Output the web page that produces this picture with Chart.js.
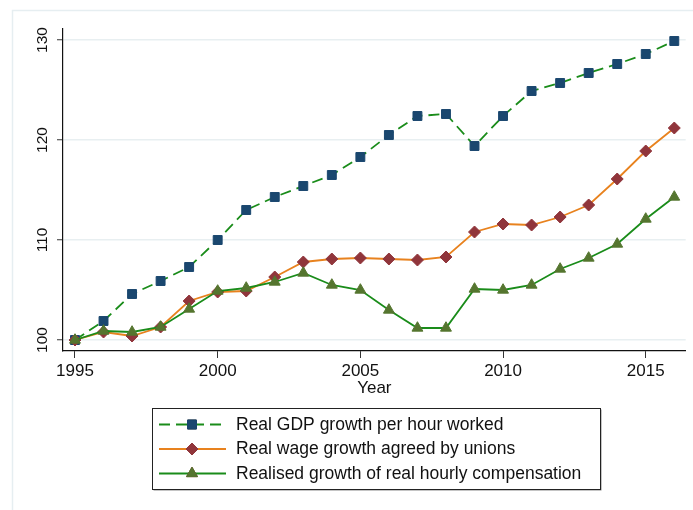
<!DOCTYPE html>
<html>
<head>
<meta charset="utf-8">
<script src="https://cdn.jsdelivr.net/npm/chart.js@4.4.1/dist/chart.umd.min.js"></script>
<style>
  body { margin: 0; background: #fff; }
  #wrap { position: relative; width: 693px; height: 510px; }
</style>
</head>
<body>
<div id="wrap"><canvas id="chart" width="693" height="510"></canvas></div>
<script>
// values (index, 1995 = 100)
var years = [1995, 1996, 1997, 1998, 1999, 2000, 2001, 2002, 2003, 2004, 2005,
             2006, 2007, 2008, 2009, 2010, 2011, 2012, 2013, 2014, 2015, 2016];
var gdpPerHour = [100, 101.9, 104.6, 105.9, 107.3, 110.0, 113.0, 114.3, 115.4, 116.5, 118.3,
                  120.5, 122.4, 122.6, 119.4, 122.4, 124.9, 125.7, 126.7, 127.6, 128.6, 129.9];
var unionWages = [100, 100.8, 100.4, 101.3, 103.9, 104.8, 104.9, 106.3, 107.8, 108.1, 108.2,
                  108.1, 108.0, 108.3, 110.8, 111.6, 111.5, 112.3, 113.5, 116.1, 118.9, 121.2];
var hourlyComp = [100, 100.9, 100.8, 101.3, 103.1, 104.9, 105.2, 105.8, 106.7, 105.5, 105.0,
                  103.0, 101.2, 101.2, 105.1, 105.0, 105.5, 107.1, 108.2, 109.6, 112.1, 114.3];
var xTicks = [1995, 2000, 2005, 2010, 2015];
var yTicks = [100, 110, 120, 130];
var seriesNames = ["Real GDP growth per hour worked",
                   "Real wage growth agreed by unions",
                   "Realised growth of real hourly compensation"];

function toPoints(vals) {
    return vals.map(function(v, i) { return {x: years[i], y: v}; });
}

var FONT = "'Liberation Sans', Arial, sans-serif";

// light frame + boxed legend, drawn on the canvas
var extras = {
    id: 'extras',
    beforeDraw: function(chart) {
        var c = chart.ctx;
        c.save();
        c.strokeStyle = '#e6eef1';
        c.lineWidth = 1.5;
        c.beginPath();
        c.moveTo(12.5, 510); c.lineTo(12.5, 10.5); c.lineTo(693, 10.5);
        c.stroke();
        c.restore();
    },
    afterDraw: function(chart) {
        var c = chart.ctx;
        var bx = 152, by = 408, bw = 448, bh = 81;
        c.save();
        // soft shadow
        c.strokeStyle = '#8a8a8a';
        c.lineWidth = 1.5;
        c.beginPath();
        c.moveTo(bx + 1.5, by + bh + 0.75); c.lineTo(bx + bw + 0.75, by + bh + 0.75); c.lineTo(bx + bw + 0.75, by + 1.5);
        c.stroke();
        c.strokeStyle = '#222';
        c.lineWidth = 1;
        c.strokeRect(bx + 0.5, by + 0.5, bw, bh);

        var rows = [424.5, 449, 473.5];
        chart.data.datasets.forEach(function(ds, i) {
            var y = rows[i];
            c.save();
            c.strokeStyle = ds.borderColor;
            c.lineWidth = ds.borderWidth;
            c.setLineDash(ds.borderDash || []);
            c.beginPath();
            c.moveTo(159, y); c.lineTo(226, y);
            c.stroke();
            c.restore();
            Chart.helpers.drawPoint(c, {
                pointStyle: ds.pointStyle, radius: ds.pointRadius, rotation: 0, borderWidth: 1
            }, 192, y);
            c.fillStyle = ds.pointBackgroundColor;
            c.strokeStyle = ds.pointBorderColor;
            c.lineWidth = 1;
            c.beginPath();
            Chart.helpers.drawPoint(c, {pointStyle: ds.pointStyle, radius: ds.pointRadius, rotation: 0, borderWidth: 1}, 192, y);
            c.fillStyle = '#111';
            c.font = '17.5px ' + FONT;
            c.textBaseline = 'middle';
            c.textAlign = 'left';
            c.fillText(ds.label, 236, y + 0.5);
        });
        c.restore();
    }
};

new Chart(document.getElementById('chart'), {
    type: 'line',
    data: {
        datasets: [
        {
            label: seriesNames[0],
            data: toPoints(gdpPerHour),
            borderColor: '#1a8c1a',
            borderWidth: 1.8,
            borderDash: [11, 6],
            pointStyle: 'rect',
            pointRadius: 6.3,
            pointBackgroundColor: '#1a476f',
            pointBorderColor: '#1a476f',
            pointBorderWidth: 1,
            order: 2
        },
        {
            label: seriesNames[1],
            data: toPoints(unionWages),
            borderColor: '#e8821e',
            borderWidth: 1.8,
            pointStyle: 'rectRot',
            pointRadius: 6,
            pointBackgroundColor: '#90353b',
            pointBorderColor: '#90353b',
            pointBorderWidth: 1,
            order: 1
        },
        {
            label: seriesNames[2],
            data: toPoints(hourlyComp),
            borderColor: '#1a8c1a',
            borderWidth: 1.8,
            pointStyle: 'triangle',
            pointRadius: 6.3,
            pointBackgroundColor: '#55752f',
            pointBorderColor: '#55752f',
            pointBorderWidth: 1,
            order: 0
        }]
    },
    options: {
        responsive: false,
        devicePixelRatio: 1,
        animation: false,
        layout: { padding: { top: 29, right: 6, left: 0, bottom: 0 } },
        plugins: { legend: { display: false }, tooltip: { enabled: false } },
        elements: { line: { tension: 0, fill: false } },
        scales: {
            x: {
                type: 'linear',
                min: 1994.58,
                max: 2016.4,
                afterBuildTicks: function(s) { s.ticks = xTicks.map(function(v) { return {value: v}; }); },
                afterFit: function(s) { s.height = 159; },
                grid: { drawOnChartArea: false, tickLength: 7, tickColor: '#333', tickWidth: 1 },
                border: { color: '#111', width: 1.2 },
                ticks: {
                    color: '#111', padding: 3, maxRotation: 0, autoSkip: false,
                    font: { family: FONT, size: 17 },
                    callback: function(v) { return String(v); }
                },
                title: {
                    display: true, text: 'Year', color: '#111',
                    font: { family: FONT, size: 17 },
                    padding: { top: 0, bottom: 111 }
                }
            },
            y: {
                type: 'linear',
                min: 98.9,
                max: 131.1,
                afterBuildTicks: function(s) { s.ticks = yTicks.map(function(v) { return {value: v}; }); },
                afterFit: function(s) { s.width = 63; },
                grid: { color: '#e8eff1', lineWidth: 1.5, tickLength: 6, tickColor: '#333', tickWidth: 1 },
                border: { color: '#111', width: 1.2 },
                ticks: {
                    color: '#111', padding: 1.5, minRotation: 90, maxRotation: 90,
                    crossAlign: 'center',
                    font: { family: FONT, size: 15.5 },
                    callback: function(v) { return String(v); }
                }
            }
        }
    },
    plugins: [extras]
});
</script>
</body>
</html>
